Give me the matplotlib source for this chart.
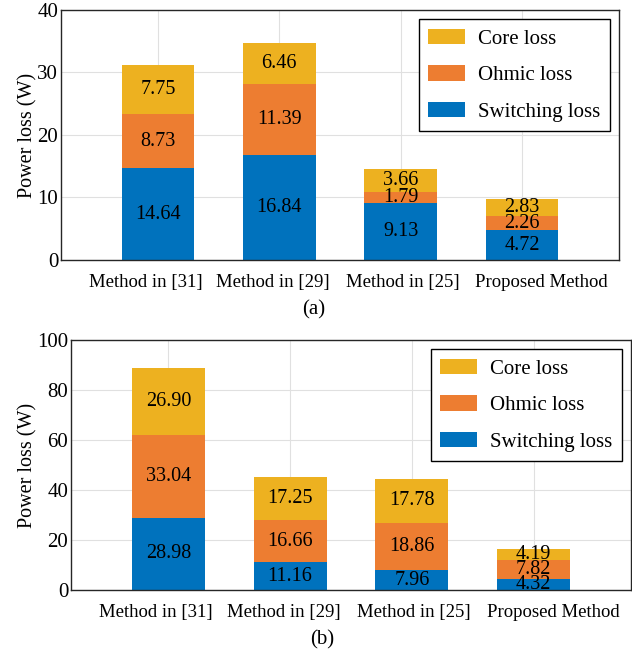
import matplotlib
matplotlib.use("Agg")
import matplotlib.pyplot as plt
import numpy as np

plt.rcParams['font.family'] = ['Liberation Serif', 'DejaVu Serif']

methods = ["Method in [31]", "Method in [29]", "Method in [25]", "Proposed Method"]
loss_names = ["Switching loss", "Ohmic loss", "Core loss"]
colors = ["#0072BD", "#ED7D31", "#EDB120"]

# case (a)
switching_a = [14.64, 16.84, 9.13, 4.72]
ohmic_a = [8.73, 11.39, 1.79, 2.26]
core_a = [7.75, 6.46, 3.66, 2.83]

# case (b)
switching_b = [28.98, 11.16, 7.96, 4.32]
ohmic_b = [33.04, 16.66, 18.86, 7.82]
core_b = [26.90, 17.25, 17.78, 4.19]

# category labels sit a little off the bar centres
label_shift = [-0.10, -0.05, 0.02, 0.16]

fig = plt.figure(figsize=(6.32, 6.56), dpi=100)
ax_a = fig.add_axes([0.0965, 0.6037, 0.8829, 0.3811])
ax_b = fig.add_axes([0.1123, 0.1006, 0.8861, 0.3811])


def stacked(ax, layers, ymax, yticks):
    x = np.arange(1, len(methods) + 1)
    bottom = np.zeros(len(methods))
    handles = []
    for vals, name, c in zip(layers, loss_names, colors):
        vals = np.array(vals)
        h = ax.bar(x, vals, 0.6, bottom=bottom, color=c, label=name, zorder=2)
        handles.append(h)
        for xi, b, v in zip(x, bottom, vals):
            ax.text(xi, b + v / 2, f"{v:.2f}", ha="center", va="center",
                    fontsize=14.5, zorder=3)
        bottom = bottom + vals
    ax.set_xlim(0.2, 4.8)
    ax.set_ylim(0, ymax)
    ax.set_yticks(yticks)
    ax.set_xticks(x)
    ax.set_xticklabels([])
    ax.set_xticks(x + np.array(label_shift), minor=True)
    ax.set_xticklabels(methods, minor=True, fontsize=13.5)
    ax.tick_params(axis="y", labelsize=15, length=0, pad=2)
    ax.tick_params(axis="x", which="both", length=0, pad=10)
    ax.grid(True, color="#e0e0e0", linewidth=0.8, zorder=0)
    ax.set_axisbelow(True)
    for s in ax.spines.values():
        s.set_color("#262626")
        s.set_linewidth(1.0)
    ax.set_ylabel("Power loss (W)", fontsize=14.5, labelpad=0)
    leg = ax.legend(handles[::-1], loss_names[::-1], loc="upper right",
                    fontsize=15, fancybox=False, framealpha=1,
                    edgecolor="black", handlelength=1.8, handleheight=0.75,
                    labelspacing=0.8, borderaxespad=0.45, borderpad=0.45,
                    handletextpad=0.6)
    leg.get_frame().set_linewidth(1.0)


stacked(ax_a, [switching_a, ohmic_a, core_a], 40, [0, 10, 20, 30, 40])
stacked(ax_b, [switching_b, ohmic_b, core_b], 100, [0, 20, 40, 60, 80, 100])

fig.text(314 / 632, 1 - 310 / 656, "(a)", ha="center", va="center", fontsize=15)
fig.text(322 / 632, 1 - 640 / 656, "(b)", ha="center", va="center", fontsize=15)

fig.savefig("out.png", dpi=100)
